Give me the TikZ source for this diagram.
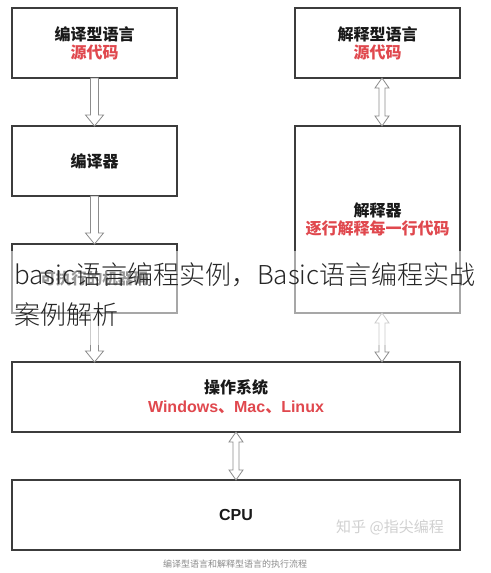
\documentclass[tikz,border=0pt]{standalone}
\usepackage{fontspec}
\setmainfont{Liberation Sans}
\newfontfamily\cjk{Noto Sans CJK SC}
\newfontfamily\ovfont{Noto Sans CJK SC Light}
\usetikzlibrary{calc}
\definecolor{boxline}{HTML}{3C3C3C}
\definecolor{redtxt}{HTML}{E0484E}
\definecolor{arrowline}{HTML}{8C8C8C}
\tikzset{
 box/.style={draw=boxline, line width=1.3pt, minimum width=165pt, minimum height=70pt,
   inner sep=0pt, outer sep=0pt, align=center,
   font=\fontsize{16}{18}\selectfont\bfseries\cjk, text=black!90},
 wide/.style={box, minimum width=448pt},
 hollow/.style={draw=arrowline, fill=white, line width=0.8pt, line join=miter},
 overlaytext/.style={anchor=west, inner sep=0pt, font=\ovfont\fontsize{26}{30}\selectfont, text=black!85},
}
\newcommand\rtxt[1]{\textcolor{redtxt}{#1}}
\newcommand\blkdown[2]{%
 \path[hollow] let \p1=(#1), \p2=(#2) in
 (\x1-4pt,\y1) -- (\x1-4pt,\y2+11pt) -- (\x1-9pt,\y2+11pt) -- (\x1,\y2) --
 (\x1+9pt,\y2+11pt) -- (\x1+4pt,\y2+11pt) -- (\x1+4pt,\y1) -- cycle;}
\newcommand\blkboth[2]{%
 \path[hollow] let \p1=(#1), \p2=(#2) in
 (\x1,\y1) -- (\x1+7pt,\y1-10pt) -- (\x1+3pt,\y1-10pt) -- (\x1+3pt,\y2+10pt) --
 (\x1+7pt,\y2+10pt) -- (\x1,\y2) -- (\x1-7pt,\y2+10pt) -- (\x1-3pt,\y2+10pt) --
 (\x1-3pt,\y1-10pt) -- (\x1-7pt,\y1-10pt) -- cycle;}
\begin{document}
\begin{tikzpicture}[x=1pt,y=-1pt]
\useasboundingbox (0,0) rectangle (490,573);
\fill[white] (0,0) rectangle (490,573);
% left column
\node[box] (b1) at (94.5,43) {编译型语言\\\rtxt{源代码}};
\node[box] (b2) at (94.5,161) {编译器};
\node[box, minimum height=69pt] (b3) at (94.5,278.5) {\raisebox{-4pt}{\fontsize{15.5}{18}\selectfont 可执行的机器码}};
% right column
\node[box] (r1) at (377.5,43) {解释型语言\\\rtxt{源代码}};
\node[box, minimum height=187pt] (r2) at (377.5,219.5) {解释器\\\rtxt{逐行解释每一行代码}};
% bottom
\node[wide] (os) at (236,397) {操作系统\\[1pt]\rtxt{{\rmfamily Windows}、{\rmfamily Mac}、{\rmfamily Linux}}};
\node[wide] (cpu) at (236,515) {{\rmfamily CPU}};
% arrows
\blkdown{b1.south}{b2.north}
\blkdown{b2.south}{b3.north}
\blkdown{b3.south}{b3.south |- os.north}
\blkboth{[xshift=4.5pt]r1.south}{[xshift=4.5pt]r2.north}
\blkboth{[xshift=4.5pt]r2.south}{[xshift=4.5pt]r2.south |- os.north}
\blkboth{os.south}{cpu.north}
% watermark and caption
\node[font=\cjk\fontsize{15}{16}\selectfont, text=black!18] (wm) at (390,527) {知乎 @指尖编程};
\node[font=\cjk\fontsize{9}{10}\selectfont, text=black!45] (cap) at (235,564) {编译型语言和解释型语言的执行流程};
% overlay
\fill[white, opacity=0.55] (0,251) rectangle (490,345);
\node[overlaytext] (ov1) at (14,275) {basic语言编程实例，Basic语言编程实战};
\node[overlaytext] (ov2) at (14,315) {案例解析};
\end{tikzpicture}
\end{document}
